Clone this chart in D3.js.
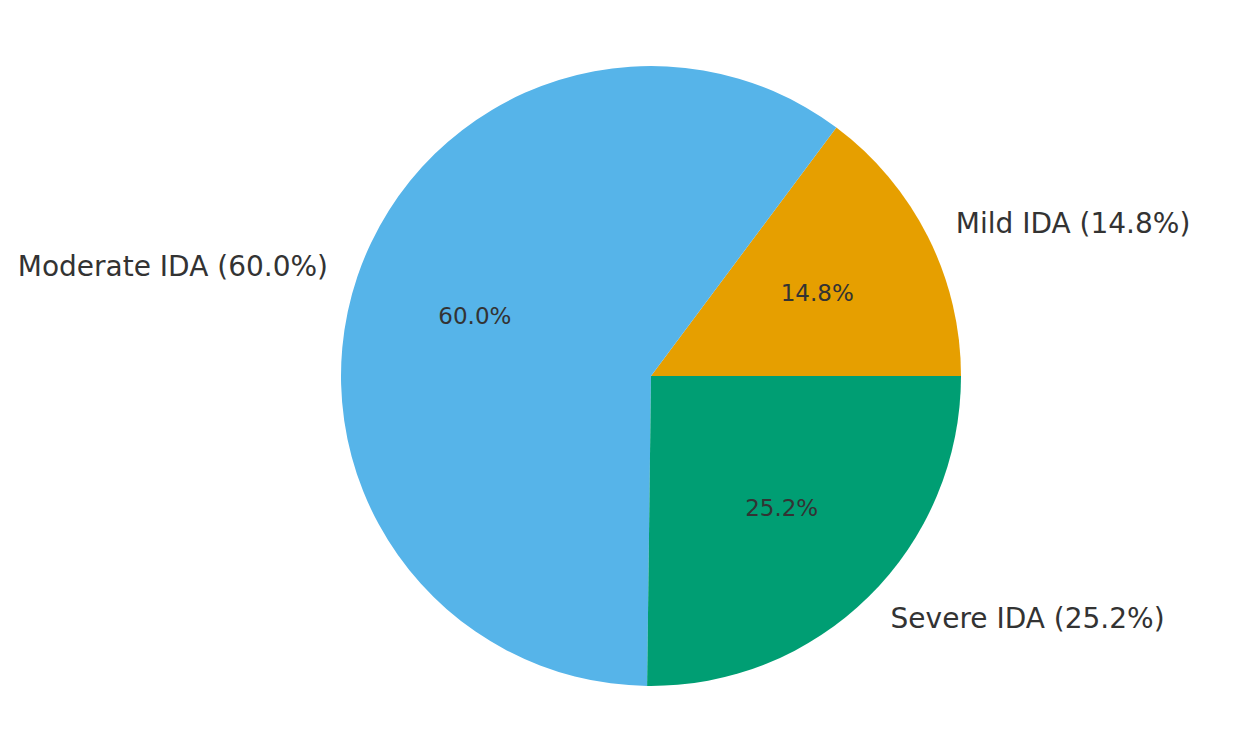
<!DOCTYPE html>
<html lang='en'>
<head>
    <meta charset='UTF-8'/>
    <title>IDA severity pie</title>
    <script src="https://cdn.jsdelivr.net/npm/d3@7"></script>
    <style>
        html, body { margin: 0; background: white; }
        svg { display: block; }
    </style>
</head>
<body>
<div id="container"></div>
<script>
    const categories = ['Mild IDA', 'Moderate IDA', 'Severe IDA']
    const shares = [14.8, 60.0, 25.2]
    const colors = ['#E69F00', '#56B4E9', '#009E73']

    const width = 1248, height = 745
    const cx = 651, cy = 376, radius = 310

    const svg = d3.select('#container')
        .append('svg')
        .attr('width', width)
        .attr('height', height)

    const g = svg.append('g').attr('transform', `translate(${cx},${cy})`)

    // matplotlib style: start at 3 o'clock, go counter-clockwise
    const pie = d3.pie()
        .sort(null)
        .value(d => d.value)
        .startAngle(Math.PI / 2)
        .endAngle(Math.PI / 2 - 2 * Math.PI)

    const data = categories.map((c, i) => ({label: c, value: shares[i], color: colors[i]}))
    const arcs = pie(data)

    const arc = d3.arc().innerRadius(0).outerRadius(radius)

    g.selectAll('path')
        .data(arcs)
        .join('path')
        .attr('d', arc)
        .style('fill', d => d.data.color)

    function pointAt(d, dist) {
        const a = (d.startAngle + d.endAngle) / 2
        return [Math.sin(a) * dist, -Math.cos(a) * dist]
    }

    g.selectAll('text.pct')
        .data(arcs)
        .join('text')
        .attr('class', 'pct')
        .attr('x', d => pointAt(d, radius * 0.6)[0])
        .attr('y', d => pointAt(d, radius * 0.6)[1])
        .attr('text-anchor', 'middle')
        .attr('dominant-baseline', 'central')
        .attr('font-family', 'DejaVu Sans')
        .attr('font-size', '23px')
        .attr('fill', '#333333')
        .text(d => d.data.value.toFixed(1) + '%')

    g.selectAll('text.label')
        .data(arcs)
        .join('text')
        .attr('class', 'label')
        .attr('x', d => pointAt(d, radius * 1.1)[0])
        .attr('y', d => pointAt(d, radius * 1.1)[1])
        .attr('text-anchor', d => pointAt(d, 1)[0] >= 0 ? 'start' : 'end')
        .attr('dominant-baseline', 'central')
        .attr('font-family', 'DejaVu Sans')
        .attr('font-size', '28px')
        .attr('fill', '#333333')
        .text(d => `${d.data.label} (${d.data.value.toFixed(1)}%)`)
</script>
</body>
</html>
